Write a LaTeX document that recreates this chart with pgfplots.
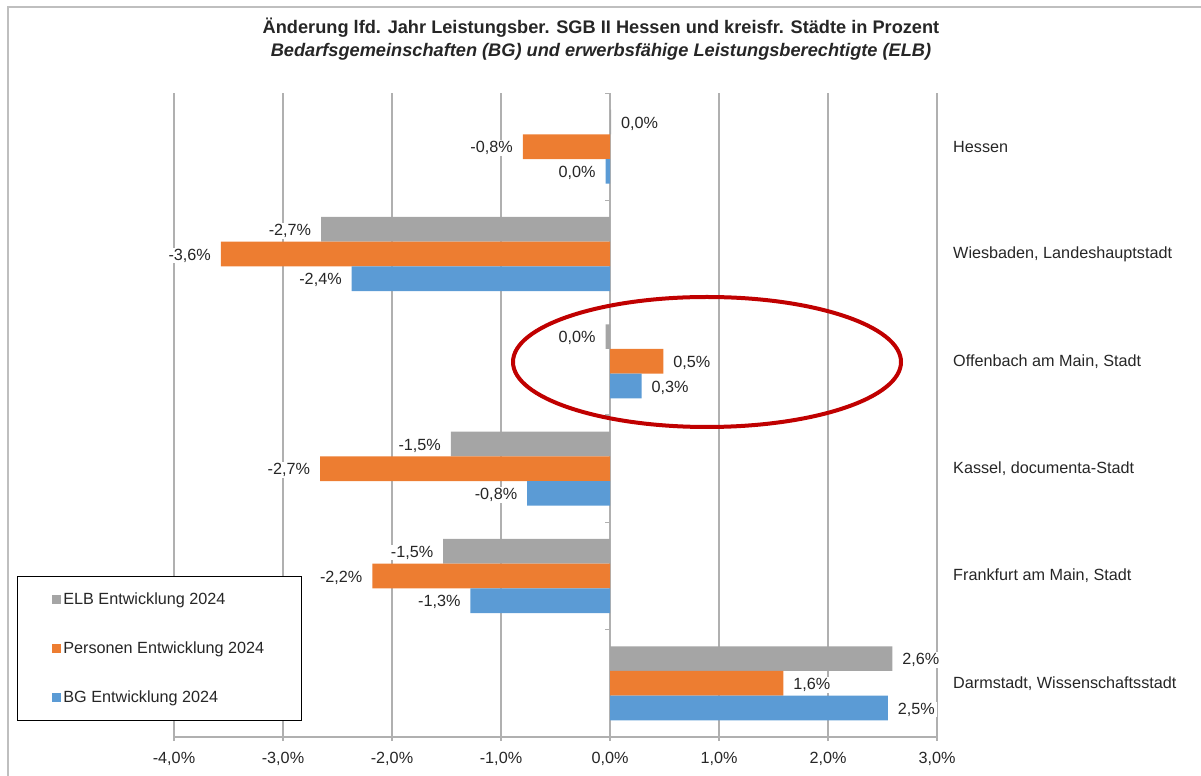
\documentclass[border=0pt]{standalone}
\usepackage{fontspec}
\setmainfont{Liberation Sans}
\usepackage{pgfplots}
\usepackage{pgfplotstable}
\pgfplotsset{compat=1.18}

\definecolor{elb}{HTML}{A5A5A5}
\definecolor{pers}{HTML}{ED7D31}
\definecolor{bg}{HTML}{5B9BD5}
\definecolor{gridgray}{HTML}{B0B0B0}
\definecolor{txt}{HTML}{262626}
\definecolor{ring}{HTML}{C00000}
\definecolor{frame}{HTML}{BFBFBF}

% y = Kategorie (0 = Hessen oben), x = Veraenderung in %, lab = Beschriftung
\pgfplotstableread{
y x lab
0 0.01 0,0
1 -2.65 -2,7
2 -0.04 0,0
3 -1.46 -1,5
4 -1.53 -1,5
5 2.59 2,6
}\elbdata
\pgfplotstableread{
y x lab
0 -0.80 -0,8
1 -3.57 -3,6
2 0.49 0,5
3 -2.66 -2,7
4 -2.18 -2,2
5 1.59 1,6
}\persdata
\pgfplotstableread{
y x lab
0 -0.04 0,0
1 -2.37 -2,4
2 0.29 0,3
3 -0.76 -0,8
4 -1.28 -1,3
5 2.55 2,5
}\bgdata

\newcommand\lbl{\fontsize{16.2bp}{18bp}\selectfont}

\pgfplotsset{
  sqlegend/.style={legend image code/.code={\fill[##1] (0bp,-4.5bp) rectangle (9bp,4.5bp);}},
  barlabels/.style={
    point meta=explicit symbolic,
    visualization depends on={rawx \as \xv},
    nodes near coords={\pgfplotspointmeta\%},
    every node near coord/.append style={
      /utils/exec={\ifdim\xv pt<0pt\def\anc{east}\else\def\anc{west}\fi},
      anchor=\anc, font=\lbl, text=txt,
      fill=white, inner xsep=2bp, inner ysep=1bp, outer xsep=8bp, yshift=-1.5bp},
  },
}

\begin{document}
\begin{tikzpicture}
\useasboundingbox (0,0) rectangle (1201bp,776bp);
\draw[frame, line width=2bp] (7.5bp,0) -- (7.5bp,768.5bp) -- (1201bp,768.5bp);

\node[anchor=base, font=\fontsize{18.2bp}{21bp}\selectfont\bfseries, text=txt] at (601bp,742bp)
  {Änderung lfd. Jahr Leistungsber. SGB II Hessen und kreisfr. Städte in Prozent};
\node[anchor=base, font=\fontsize{18.2bp}{21bp}\selectfont\bfseries\itshape, text=txt] at (601bp,719bp)
  {Bedarfsgemeinschaften (BG) und erwerbsfähige Leistungsberechtigte (ELB)};

\begin{axis}[
  at={(174bp,39bp)}, anchor=south west,
  scale only axis, width=763bp, height=644bp,
  xbar, bar width=0.23,
  xmin=-4, xmax=3, ymin=-0.5, ymax=5.5, y dir=reverse,
  axis x line*=bottom, axis y line*=right,
  axis line style={gridgray, line width=1.2bp},
  xtick={-4,-3,-2,-1,0,1,2,3},
  xticklabels={{-4,0\%},{-3,0\%},{-2,0\%},{-1,0\%},{0,0\%},{1,0\%},{2,0\%},{3,0\%}},
  ytick={0,1,2,3,4,5},
  yticklabels={Hessen, {Wiesbaden,\ Landeshauptstadt}, {Offenbach am Main, Stadt},
    {Kassel, documenta-Stadt}, {Frankfurt am Main, Stadt}, {Darmstadt, Wissenschaftsstadt}},
  tick align=outside, major tick length=4bp,
  xtick style={gridgray, line width=1.2bp},
  ytick style={draw=none},
  xticklabel style={font=\lbl, text=txt, yshift=-8bp},
  yticklabel style={font=\lbl, text=txt, anchor=west, inner sep=0pt, xshift=12bp},
  xmajorgrids, grid style={gridgray, line width=1.2bp},
  legend style={at={(-0.2058,0.0248)}, anchor=south west, draw=black, line width=0.8bp,
    font=\lbl, text=txt, inner xsep=35bp, inner ysep=15bp, row sep=31.5bp,
    nodes={inner sep=2bp}},
  legend cell align=left,
]
\addplot[fill=elb, draw=none, bar shift=-0.23, sqlegend, barlabels]
  table[x=x, y=y, meta=lab] {\elbdata};
\addplot[fill=pers, draw=none, bar shift=0, sqlegend, barlabels]
  table[x=x, y=y, meta=lab] {\persdata};
\addplot[fill=bg, draw=none, bar shift=0.23, sqlegend, barlabels]
  table[x=x, y=y, meta=lab] {\bgdata};
\legend{ELB Entwicklung 2024, Personen Entwicklung 2024, BG Entwicklung 2024}
\pgfplotsinvokeforeach{-0.5,0.5,1.5,2.5,3.5,4.5}{
  \draw[gridgray, line width=1.2bp] (axis cs:0,#1) -- ([xshift=-5bp]axis cs:0,#1);
}
\end{axis}

\draw[ring, line width=4bp] (707bp,414bp) ellipse [x radius=194bp, y radius=65bp];
\end{tikzpicture}
\end{document}
